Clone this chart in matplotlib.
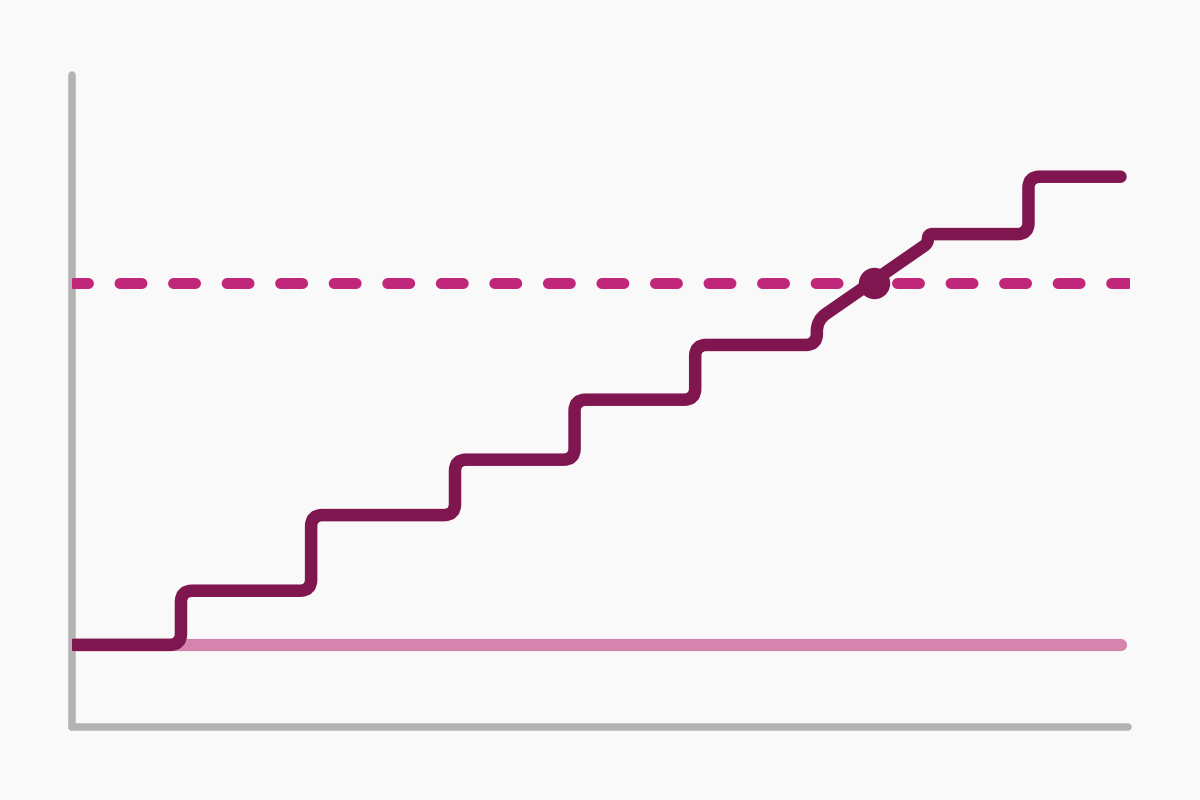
import matplotlib.pyplot as plt
import numpy as np
from matplotlib.path import Path
from matplotlib.patches import PathPatch

# Escalera (vertices de la linea principal)
path_x = [0.02, 1.03, 1.03, 2.26, 2.26, 3.62, 3.62, 4.75, 4.75, 5.89, 5.89,
          7.04, 7.04, 8.09, 8.09, 9.04, 9.04, 9.91]
path_y = [1.26, 1.26, 2.09, 2.09, 3.25, 3.25, 4.10, 4.10, 5.02, 5.02, 5.86,
          5.86, 6.24, 7.42, 7.56, 7.56, 8.44, 8.44]

# Linea base
base_y = 1.26
base_x = [0.02, 9.91]

# Meta (linea discontinua) y punto de cruce
target_y = 6.81
target_left = [0.014, 7.58]
target_right = [7.80, 9.976]
cross_x = 7.58

bg = '#f9f9f9'
dark = '#7f1650'
mag = '#c0267a'
pink = '#d484ad'
gray = '#b3b3b3'


def esquinas_redondas( ax , xs , ys , radio ) :
    # Esquinas redondeadas con curvas cuadraticas, calculadas en pixeles.
    pts = ax.transData.transform( np.column_stack( [ xs , ys ] ) )
    verts = [ pts[ 0 ] ]
    codes = [ Path.MOVETO ]
    for i in range( 1 , len( pts ) - 1 ) :
        p0 , p1 , p2 = pts[ i - 1 ] , pts[ i ] , pts[ i + 1 ]
        d1 = np.linalg.norm( p1 - p0 )
        d2 = np.linalg.norm( p2 - p1 )
        r = min( radio , d1 / 2 , d2 / 2 )
        a = p1 + ( p0 - p1 ) / d1 * r
        b = p1 + ( p2 - p1 ) / d2 * r
        verts += [ a , p1 , b ]
        codes += [ Path.LINETO , Path.CURVE3 , Path.CURVE3 ]
    verts.append( pts[ -1 ] )
    codes.append( Path.LINETO )
    verts = ax.transData.inverted( ).transform( np.array( verts ) )
    return Path( verts , codes )


fig = plt.figure(figsize=(12, 8), dpi=100, facecolor=bg)
ax = fig.add_axes([0.06, 0.09125, 0.8817, 0.815])
ax.set_facecolor(bg)
ax.set_xlim(0, 10)
ax.set_ylim(0, 10)
ax.axis('off')

# Ejes
ax.plot([0, 0], [0, 10.0], color=gray, lw=5.4, solid_capstyle='round', clip_on=False, zorder=1)
ax.plot([0, 9.98], [0, 0], color=gray, lw=5.4, solid_capstyle='round', clip_on=False, zorder=1)

# Linea base
ax.plot(base_x, [base_y, base_y], color=pink, lw=8.8, solid_capstyle='round', zorder=2)

# Meta discontinua (dos tramos)
ax.plot(target_left, [target_y, target_y], color=mag, lw=7.9,
        linestyle=(0.64, (2.0, 2.88)), dash_capstyle='round', zorder=3)
ax.plot(target_right, [target_y, target_y], color=mag, lw=7.9,
        linestyle=(0, (2.0, 2.88)), dash_capstyle='round', zorder=3)

# Escalera con esquinas redondeadas
escalera = esquinas_redondas(ax, path_x, path_y, 11)
ax.add_patch(PathPatch(escalera, facecolor='none', edgecolor=dark, lw=9.0,
                       capstyle='round', joinstyle='round', zorder=4))

# Punto de cruce
ax.plot([cross_x], [target_y], 'o', color=dark, markersize=21.6, zorder=5)

fig.savefig('out.png', dpi=100, facecolor=bg)
